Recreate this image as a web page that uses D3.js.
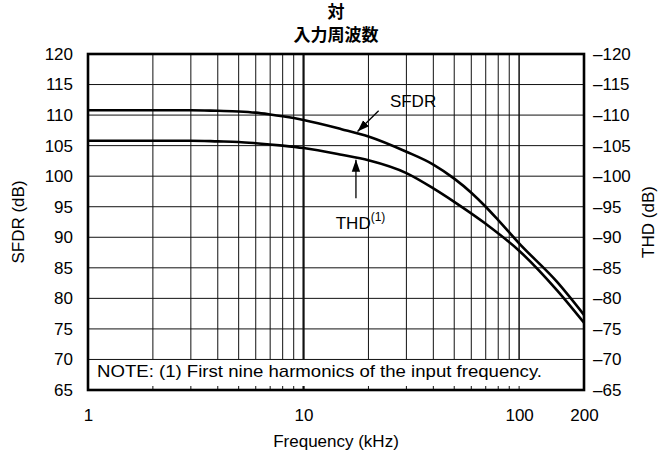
<!DOCTYPE html>
<html>
<head>
<meta charset="utf-8">
<script src="https://cdn.jsdelivr.net/npm/d3@7"></script>
<style>
  body { margin: 0; background: #fff; }
  text { font-family: "Liberation Sans", Arial, Helvetica, sans-serif; fill: #000; }
</style>
</head>
<body>
<div id="chart-area"></div>
<script>
// data
var sfdrFreq = [1, 2, 3, 4, 5, 6, 7, 8, 10, 15, 20, 30, 40, 50, 60, 70, 80, 100, 150, 200];
var sfdrVals = [110.8, 110.8, 110.8, 110.7, 110.6, 110.4, 110.1, 109.8, 109.2, 107.7, 106.5, 104, 101.9, 99.6, 97.3, 95, 92.8, 89, 82.7, 77.3];
var thdFreq = [1, 2, 3, 4, 5, 6, 8, 10, 15, 20, 30, 40, 50, 70, 100, 150, 200];
var thdVals = [105.8, 105.8, 105.8, 105.7, 105.6, 105.4, 105, 104.6, 103.5, 102.6, 100.5, 98, 95.8, 92.2, 87.8, 81.3, 76];

var yTicks = [65, 70, 75, 80, 85, 90, 95, 100, 105, 110, 115, 120];
var xLabels = [1, 10, 100, 200];
var xGrid = [2, 3, 4, 5, 6, 7, 8, 9, 10, 20, 30, 40, 50, 60, 70, 80, 90, 100];

var margin = {left: 88, right: 74, top: 54, bottom: 64};
var width = 658 - margin.left - margin.right,
    height = 454 - margin.top - margin.bottom;

var svg = d3.select("#chart-area")
    .append("svg")
        .attr("width", 658)
        .attr("height", 454);

var g = svg.append("g")
    .attr("transform", "translate(" + margin.left + "," + margin.top + ")");

var x = d3.scaleLog().domain([1, 200]).range([0, width]);
var y = d3.scaleLinear().domain([65, 120]).range([height, 0]);

// title
var title = svg.append("text")
    .attr("x", margin.left + width / 2)
    .attr("text-anchor", "middle")
    .attr("font-size", "17px")
    .attr("font-weight", "bold")
    .style("font-family", "'Noto Sans CJK JP', sans-serif");
title.append("tspan").attr("x", margin.left + width / 2).attr("y", 18).text("対");
title.append("tspan").attr("x", margin.left + width / 2).attr("y", 41).text("入力周波数");

// grid
g.selectAll(".hgrid")
    .data(yTicks.filter(function(d){ return d > 70 && d < 120; }))
    .enter().append("line")
        .attr("x1", 0).attr("x2", width)
        .attr("y1", function(d){ return y(d); })
        .attr("y2", function(d){ return y(d); })
        .attr("stroke", "#111")
        .attr("stroke-width", 1);

g.selectAll(".vgrid")
    .data(xGrid)
    .enter().append("line")
        .attr("x1", function(d){ return x(d); })
        .attr("x2", function(d){ return x(d); })
        .attr("y1", 0).attr("y2", height)
        .attr("stroke", "#111")
        .attr("stroke-width", function(d){ return d === 10 ? 2.2 : (d === 100 ? 1.5 : 1); });

// curves
var line = d3.line()
    .x(function(d){ return x(d[0]); })
    .y(function(d){ return y(d[1]); })
    .curve(d3.curveMonotoneX);

var sfdr = sfdrFreq.map(function(f, i){ return [f, sfdrVals[i]]; });
var thd = thdFreq.map(function(f, i){ return [f, thdVals[i]]; });

[sfdr, thd].forEach(function(s){
    g.append("path")
        .datum(s)
        .attr("d", line)
        .attr("fill", "none")
        .attr("stroke", "#000")
        .attr("stroke-width", 2.6);
});

// note box
g.append("rect")
    .attr("x", 0).attr("y", y(70))
    .attr("width", width).attr("height", y(65) - y(70))
    .attr("fill", "#fff")
    .attr("stroke", "#111")
    .attr("stroke-width", 1);

g.selectAll(".btick")
    .data(xGrid)
    .enter().append("line")
        .attr("x1", function(d){ return x(d); })
        .attr("x2", function(d){ return x(d); })
        .attr("y1", height).attr("y2", height - 4)
        .attr("stroke", "#111")
        .attr("stroke-width", function(d){ return d === 10 ? 2.2 : 1; });

g.append("text")
    .attr("x", 9)
    .attr("y", y(65) - 13)
    .attr("font-size", "17px")
    .attr("textLength", 445)
    .attr("lengthAdjust", "spacingAndGlyphs")
    .text("NOTE: (1) First nine harmonics of the input frequency.");

// frame
g.append("rect")
    .attr("x", 0).attr("y", 0)
    .attr("width", width).attr("height", height)
    .attr("fill", "none")
    .attr("stroke", "#000")
    .attr("stroke-width", 2.6);

// axes
var yAxisL = d3.axisLeft(y).tickValues(yTicks).tickSize(0).tickPadding(15);
g.append("g").attr("class", "y axis").call(yAxisL)
    .call(function(s){ s.select(".domain").remove(); })
    .selectAll("text")
        .attr("font-size", "17px")
        .style("font-family", "'Liberation Sans', Arial, sans-serif");

var yAxisR = d3.axisRight(y).tickValues(yTicks).tickSize(0).tickPadding(9)
    .tickFormat(function(d){ return "\u2013" + d; });
g.append("g").attr("class", "y axis").attr("transform", "translate(" + width + ",0)").call(yAxisR)
    .call(function(s){ s.select(".domain").remove(); })
    .selectAll("text")
        .attr("font-size", "17px")
        .style("font-family", "'Liberation Sans', Arial, sans-serif");

var xAxis = d3.axisBottom(x).tickValues(xLabels).tickSize(0).tickPadding(19)
    .tickFormat(d3.format("d"));
g.append("g").attr("class", "x axis").attr("transform", "translate(0," + height + ")").call(xAxis)
    .call(function(s){ s.select(".domain").remove(); })
    .selectAll("text")
        .attr("font-size", "17px")
        .style("font-family", "'Liberation Sans', Arial, sans-serif");

// axis titles
g.append("text")
    .attr("x", width / 2)
    .attr("y", height + 57)
    .attr("text-anchor", "middle")
    .attr("font-size", "17px")
    .text("Frequency (kHz)");

g.append("text")
    .attr("transform", "rotate(-90)")
    .attr("x", -y(92.5))
    .attr("y", -64)
    .attr("text-anchor", "middle")
    .attr("font-size", "17px")
    .text("SFDR (dB)");

g.append("text")
    .attr("transform", "rotate(-90)")
    .attr("x", -y(92.5))
    .attr("y", width + 70)
    .attr("text-anchor", "middle")
    .attr("font-size", "17px")
    .text("THD (dB)");

// annotations
svg.append("defs").append("marker")
    .attr("id", "arrow")
    .attr("viewBox", "0 0 10 10")
    .attr("refX", 10).attr("refY", 5)
    .attr("markerWidth", 12).attr("markerHeight", 12)
    .attr("markerUnits", "userSpaceOnUse")
    .attr("orient", "auto")
  .append("path")
    .attr("d", "M0,1.5 L10,5 L0,8.5 Z")
    .attr("fill", "#000");

var arrows = [
    {from: [22.3, 110.7], to: [17.8, 107.3]},
    {from: [17.5, 96.4], to: [17.5, 102.7]}
];
g.selectAll(".arrow")
    .data(arrows)
    .enter().append("line")
        .attr("x1", function(d){ return x(d.from[0]); })
        .attr("y1", function(d){ return y(d.from[1]); })
        .attr("x2", function(d){ return x(d.to[0]); })
        .attr("y2", function(d){ return y(d.to[1]); })
        .attr("stroke", "#000")
        .attr("stroke-width", 1.3)
        .attr("marker-end", "url(#arrow)");

g.append("text")
    .attr("x", x(32.2))
    .attr("y", y(111.3))
    .attr("text-anchor", "middle")
    .attr("font-size", "17px")
    .text("SFDR");

var thdLabel = g.append("text")
    .attr("x", x(14.1))
    .attr("y", y(91.4))
    .attr("font-size", "17px");
thdLabel.append("tspan").text("THD");
thdLabel.append("tspan").attr("font-size", "12px").attr("dy", -8).text("(1)");
</script>
</body>
</html>
